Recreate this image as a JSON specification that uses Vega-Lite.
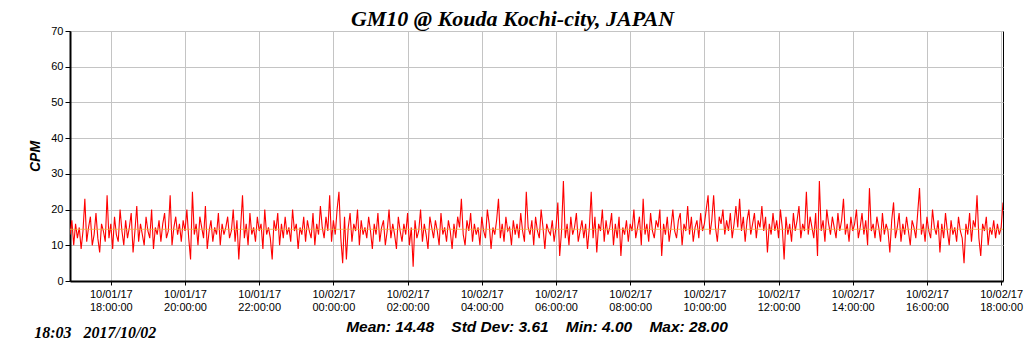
{
"$schema":"https://vega.github.io/schema/vega-lite/v6.json",
"width":933,"height":250,
"autosize":{"type":"none"},
"padding":{"left":70,"top":31,"right":21,"bottom":70},
"background":"white",
"title":{"text":"GM10 @ Kouda Kochi-city, JAPAN","font":"Liberation Serif","fontSize":22,"fontWeight":"bold","fontStyle":"italic","color":"black","anchor":"middle","offset":-6,"dx":-24},
"config":{"view":{"stroke":"black","strokeWidth":1}},
"layer":[
{"data":{"values":[
{"t":"2017-10-01T16:54","v":13},{"t":"2017-10-01T16:57","v":17},{"t":"2017-10-01T17:00","v":10},{"t":"2017-10-01T17:03","v":16},{"t":"2017-10-01T17:06","v":12},{"t":"2017-10-01T17:09","v":15},{"t":"2017-10-01T17:12","v":9},{"t":"2017-10-01T17:15","v":14},{"t":"2017-10-01T17:18","v":23},{"t":"2017-10-01T17:21","v":11},{"t":"2017-10-01T17:24","v":15},{"t":"2017-10-01T17:27","v":18},{"t":"2017-10-01T17:30","v":10},{"t":"2017-10-01T17:33","v":13},{"t":"2017-10-01T17:36","v":19},{"t":"2017-10-01T17:39","v":12},{"t":"2017-10-01T17:42","v":8},{"t":"2017-10-01T17:45","v":16},{"t":"2017-10-01T17:48","v":14},{"t":"2017-10-01T17:51","v":11},
{"t":"2017-10-01T17:54","v":24},{"t":"2017-10-01T17:57","v":12},{"t":"2017-10-01T18:00","v":16},{"t":"2017-10-01T18:03","v":9},{"t":"2017-10-01T18:06","v":18},{"t":"2017-10-01T18:09","v":13},{"t":"2017-10-01T18:12","v":11},{"t":"2017-10-01T18:15","v":20},{"t":"2017-10-01T18:18","v":14},{"t":"2017-10-01T18:21","v":10},{"t":"2017-10-01T18:24","v":17},{"t":"2017-10-01T18:27","v":12},{"t":"2017-10-01T18:30","v":15},{"t":"2017-10-01T18:33","v":19},{"t":"2017-10-01T18:36","v":8},{"t":"2017-10-01T18:39","v":14},{"t":"2017-10-01T18:42","v":21},{"t":"2017-10-01T18:45","v":11},{"t":"2017-10-01T18:48","v":16},{"t":"2017-10-01T18:51","v":13},
{"t":"2017-10-01T18:54","v":10},{"t":"2017-10-01T18:57","v":18},{"t":"2017-10-01T19:00","v":14},{"t":"2017-10-01T19:03","v":12},{"t":"2017-10-01T19:06","v":20},{"t":"2017-10-01T19:09","v":9},{"t":"2017-10-01T19:12","v":15},{"t":"2017-10-01T19:15","v":13},{"t":"2017-10-01T19:18","v":17},{"t":"2017-10-01T19:21","v":11},{"t":"2017-10-01T19:24","v":16},{"t":"2017-10-01T19:27","v":19},{"t":"2017-10-01T19:30","v":12},{"t":"2017-10-01T19:33","v":14},{"t":"2017-10-01T19:36","v":24},{"t":"2017-10-01T19:39","v":10},{"t":"2017-10-01T19:42","v":15},{"t":"2017-10-01T19:45","v":18},{"t":"2017-10-01T19:48","v":13},{"t":"2017-10-01T19:51","v":16},
{"t":"2017-10-01T19:54","v":11},{"t":"2017-10-01T19:57","v":17},{"t":"2017-10-01T20:00","v":14},{"t":"2017-10-01T20:03","v":20},{"t":"2017-10-01T20:06","v":12},{"t":"2017-10-01T20:09","v":6},{"t":"2017-10-01T20:12","v":25},{"t":"2017-10-01T20:15","v":13},{"t":"2017-10-01T20:18","v":16},{"t":"2017-10-01T20:21","v":10},{"t":"2017-10-01T20:24","v":18},{"t":"2017-10-01T20:27","v":15},{"t":"2017-10-01T20:30","v":12},{"t":"2017-10-01T20:33","v":21},{"t":"2017-10-01T20:36","v":9},{"t":"2017-10-01T20:39","v":14},{"t":"2017-10-01T20:42","v":17},{"t":"2017-10-01T20:45","v":11},{"t":"2017-10-01T20:48","v":15},{"t":"2017-10-01T20:51","v":13},
{"t":"2017-10-01T20:54","v":19},{"t":"2017-10-01T20:57","v":10},{"t":"2017-10-01T21:00","v":16},{"t":"2017-10-01T21:03","v":13},{"t":"2017-10-01T21:06","v":15},{"t":"2017-10-01T21:09","v":18},{"t":"2017-10-01T21:12","v":12},{"t":"2017-10-01T21:15","v":14},{"t":"2017-10-01T21:18","v":20},{"t":"2017-10-01T21:21","v":11},{"t":"2017-10-01T21:24","v":17},{"t":"2017-10-01T21:27","v":6},{"t":"2017-10-01T21:30","v":15},{"t":"2017-10-01T21:33","v":24},{"t":"2017-10-01T21:36","v":12},{"t":"2017-10-01T21:39","v":16},{"t":"2017-10-01T21:42","v":10},{"t":"2017-10-01T21:45","v":19},{"t":"2017-10-01T21:48","v":13},{"t":"2017-10-01T21:51","v":15},
{"t":"2017-10-01T21:54","v":11},{"t":"2017-10-01T21:57","v":18},{"t":"2017-10-01T22:00","v":14},{"t":"2017-10-01T22:03","v":16},{"t":"2017-10-01T22:06","v":9},{"t":"2017-10-01T22:09","v":20},{"t":"2017-10-01T22:12","v":13},{"t":"2017-10-01T22:15","v":15},{"t":"2017-10-01T22:18","v":12},{"t":"2017-10-01T22:21","v":6},{"t":"2017-10-01T22:24","v":17},{"t":"2017-10-01T22:27","v":14},{"t":"2017-10-01T22:30","v":19},{"t":"2017-10-01T22:33","v":10},{"t":"2017-10-01T22:36","v":16},{"t":"2017-10-01T22:39","v":12},{"t":"2017-10-01T22:42","v":18},{"t":"2017-10-01T22:45","v":13},{"t":"2017-10-01T22:48","v":15},{"t":"2017-10-01T22:51","v":11},
{"t":"2017-10-01T22:54","v":20},{"t":"2017-10-01T22:57","v":14},{"t":"2017-10-01T23:00","v":16},{"t":"2017-10-01T23:03","v":9},{"t":"2017-10-01T23:06","v":15},{"t":"2017-10-01T23:09","v":13},{"t":"2017-10-01T23:12","v":18},{"t":"2017-10-01T23:15","v":11},{"t":"2017-10-01T23:18","v":17},{"t":"2017-10-01T23:21","v":14},{"t":"2017-10-01T23:24","v":12},{"t":"2017-10-01T23:27","v":19},{"t":"2017-10-01T23:30","v":10},{"t":"2017-10-01T23:33","v":16},{"t":"2017-10-01T23:36","v":13},{"t":"2017-10-01T23:39","v":21},{"t":"2017-10-01T23:42","v":15},{"t":"2017-10-01T23:45","v":12},{"t":"2017-10-01T23:48","v":18},{"t":"2017-10-01T23:51","v":14},
{"t":"2017-10-01T23:54","v":24},{"t":"2017-10-01T23:57","v":11},{"t":"2017-10-02T00:00","v":17},{"t":"2017-10-02T00:03","v":13},{"t":"2017-10-02T00:06","v":20},{"t":"2017-10-02T00:09","v":25},{"t":"2017-10-02T00:12","v":12},{"t":"2017-10-02T00:15","v":5},{"t":"2017-10-02T00:18","v":18},{"t":"2017-10-02T00:21","v":6},{"t":"2017-10-02T00:24","v":15},{"t":"2017-10-02T00:27","v":19},{"t":"2017-10-02T00:30","v":11},{"t":"2017-10-02T00:33","v":16},{"t":"2017-10-02T00:36","v":14},{"t":"2017-10-02T00:39","v":20},{"t":"2017-10-02T00:42","v":10},{"t":"2017-10-02T00:45","v":17},{"t":"2017-10-02T00:48","v":13},{"t":"2017-10-02T00:51","v":15},
{"t":"2017-10-02T00:54","v":12},{"t":"2017-10-02T00:57","v":18},{"t":"2017-10-02T01:00","v":14},{"t":"2017-10-02T01:03","v":9},{"t":"2017-10-02T01:06","v":16},{"t":"2017-10-02T01:09","v":13},{"t":"2017-10-02T01:12","v":19},{"t":"2017-10-02T01:15","v":11},{"t":"2017-10-02T01:18","v":15},{"t":"2017-10-02T01:21","v":17},{"t":"2017-10-02T01:24","v":10},{"t":"2017-10-02T01:27","v":14},{"t":"2017-10-02T01:30","v":20},{"t":"2017-10-02T01:33","v":12},{"t":"2017-10-02T01:36","v":16},{"t":"2017-10-02T01:39","v":13},{"t":"2017-10-02T01:42","v":9},{"t":"2017-10-02T01:45","v":18},{"t":"2017-10-02T01:48","v":14},{"t":"2017-10-02T01:51","v":11},
{"t":"2017-10-02T01:54","v":16},{"t":"2017-10-02T01:57","v":13},{"t":"2017-10-02T02:00","v":19},{"t":"2017-10-02T02:03","v":10},{"t":"2017-10-02T02:06","v":15},{"t":"2017-10-02T02:09","v":4},{"t":"2017-10-02T02:12","v":17},{"t":"2017-10-02T02:15","v":12},{"t":"2017-10-02T02:18","v":14},{"t":"2017-10-02T02:21","v":20},{"t":"2017-10-02T02:24","v":11},{"t":"2017-10-02T02:27","v":16},{"t":"2017-10-02T02:30","v":13},{"t":"2017-10-02T02:33","v":9},{"t":"2017-10-02T02:36","v":18},{"t":"2017-10-02T02:39","v":15},{"t":"2017-10-02T02:42","v":12},{"t":"2017-10-02T02:45","v":17},{"t":"2017-10-02T02:48","v":14},{"t":"2017-10-02T02:51","v":10},
{"t":"2017-10-02T02:54","v":19},{"t":"2017-10-02T02:57","v":13},{"t":"2017-10-02T03:00","v":15},{"t":"2017-10-02T03:03","v":11},{"t":"2017-10-02T03:06","v":17},{"t":"2017-10-02T03:09","v":14},{"t":"2017-10-02T03:12","v":9},{"t":"2017-10-02T03:15","v":16},{"t":"2017-10-02T03:18","v":12},{"t":"2017-10-02T03:21","v":18},{"t":"2017-10-02T03:24","v":15},{"t":"2017-10-02T03:27","v":23},{"t":"2017-10-02T03:30","v":13},{"t":"2017-10-02T03:33","v":10},{"t":"2017-10-02T03:36","v":17},{"t":"2017-10-02T03:39","v":14},{"t":"2017-10-02T03:42","v":19},{"t":"2017-10-02T03:45","v":11},{"t":"2017-10-02T03:48","v":16},{"t":"2017-10-02T03:51","v":13},
{"t":"2017-10-02T03:54","v":15},{"t":"2017-10-02T03:57","v":10},{"t":"2017-10-02T04:00","v":18},{"t":"2017-10-02T04:03","v":14},{"t":"2017-10-02T04:06","v":12},{"t":"2017-10-02T04:09","v":20},{"t":"2017-10-02T04:12","v":16},{"t":"2017-10-02T04:15","v":9},{"t":"2017-10-02T04:18","v":15},{"t":"2017-10-02T04:21","v":13},{"t":"2017-10-02T04:24","v":17},{"t":"2017-10-02T04:27","v":23},{"t":"2017-10-02T04:30","v":12},{"t":"2017-10-02T04:33","v":16},{"t":"2017-10-02T04:36","v":11},{"t":"2017-10-02T04:39","v":18},{"t":"2017-10-02T04:42","v":14},{"t":"2017-10-02T04:45","v":15},{"t":"2017-10-02T04:48","v":10},{"t":"2017-10-02T04:51","v":17},
{"t":"2017-10-02T04:54","v":13},{"t":"2017-10-02T04:57","v":16},{"t":"2017-10-02T05:00","v":12},{"t":"2017-10-02T05:03","v":19},{"t":"2017-10-02T05:06","v":14},{"t":"2017-10-02T05:09","v":11},{"t":"2017-10-02T05:12","v":25},{"t":"2017-10-02T05:15","v":15},{"t":"2017-10-02T05:18","v":13},{"t":"2017-10-02T05:21","v":17},{"t":"2017-10-02T05:24","v":10},{"t":"2017-10-02T05:27","v":18},{"t":"2017-10-02T05:30","v":14},{"t":"2017-10-02T05:33","v":12},{"t":"2017-10-02T05:36","v":20},{"t":"2017-10-02T05:39","v":15},{"t":"2017-10-02T05:42","v":9},{"t":"2017-10-02T05:45","v":16},{"t":"2017-10-02T05:48","v":14},{"t":"2017-10-02T05:51","v":13},
{"t":"2017-10-02T05:54","v":17},{"t":"2017-10-02T05:57","v":11},{"t":"2017-10-02T06:00","v":15},{"t":"2017-10-02T06:03","v":22},{"t":"2017-10-02T06:06","v":7},{"t":"2017-10-02T06:09","v":14},{"t":"2017-10-02T06:12","v":28},{"t":"2017-10-02T06:15","v":12},{"t":"2017-10-02T06:18","v":16},{"t":"2017-10-02T06:21","v":10},{"t":"2017-10-02T06:24","v":18},{"t":"2017-10-02T06:27","v":13},{"t":"2017-10-02T06:30","v":15},{"t":"2017-10-02T06:33","v":19},{"t":"2017-10-02T06:36","v":11},{"t":"2017-10-02T06:39","v":14},{"t":"2017-10-02T06:42","v":17},{"t":"2017-10-02T06:45","v":12},{"t":"2017-10-02T06:48","v":16},{"t":"2017-10-02T06:51","v":9},
{"t":"2017-10-02T06:54","v":15},{"t":"2017-10-02T06:57","v":25},{"t":"2017-10-02T07:00","v":12},{"t":"2017-10-02T07:03","v":18},{"t":"2017-10-02T07:06","v":8},{"t":"2017-10-02T07:09","v":16},{"t":"2017-10-02T07:12","v":14},{"t":"2017-10-02T07:15","v":20},{"t":"2017-10-02T07:18","v":11},{"t":"2017-10-02T07:21","v":17},{"t":"2017-10-02T07:24","v":13},{"t":"2017-10-02T07:27","v":15},{"t":"2017-10-02T07:30","v":19},{"t":"2017-10-02T07:33","v":10},{"t":"2017-10-02T07:36","v":16},{"t":"2017-10-02T07:39","v":12},{"t":"2017-10-02T07:42","v":18},{"t":"2017-10-02T07:45","v":7},{"t":"2017-10-02T07:48","v":15},{"t":"2017-10-02T07:51","v":13},
{"t":"2017-10-02T07:54","v":17},{"t":"2017-10-02T07:57","v":11},{"t":"2017-10-02T08:00","v":16},{"t":"2017-10-02T08:03","v":14},{"t":"2017-10-02T08:06","v":20},{"t":"2017-10-02T08:09","v":12},{"t":"2017-10-02T08:12","v":15},{"t":"2017-10-02T08:15","v":18},{"t":"2017-10-02T08:18","v":10},{"t":"2017-10-02T08:21","v":23},{"t":"2017-10-02T08:24","v":13},{"t":"2017-10-02T08:27","v":16},{"t":"2017-10-02T08:30","v":11},{"t":"2017-10-02T08:33","v":19},{"t":"2017-10-02T08:36","v":14},{"t":"2017-10-02T08:39","v":12},{"t":"2017-10-02T08:42","v":17},{"t":"2017-10-02T08:45","v":15},{"t":"2017-10-02T08:48","v":20},{"t":"2017-10-02T08:51","v":7},
{"t":"2017-10-02T08:54","v":16},{"t":"2017-10-02T08:57","v":13},{"t":"2017-10-02T09:00","v":18},{"t":"2017-10-02T09:03","v":11},{"t":"2017-10-02T09:06","v":15},{"t":"2017-10-02T09:09","v":20},{"t":"2017-10-02T09:12","v":14},{"t":"2017-10-02T09:15","v":12},{"t":"2017-10-02T09:18","v":17},{"t":"2017-10-02T09:21","v":19},{"t":"2017-10-02T09:24","v":10},{"t":"2017-10-02T09:27","v":16},{"t":"2017-10-02T09:30","v":14},{"t":"2017-10-02T09:33","v":21},{"t":"2017-10-02T09:36","v":13},{"t":"2017-10-02T09:39","v":18},{"t":"2017-10-02T09:42","v":11},{"t":"2017-10-02T09:45","v":15},{"t":"2017-10-02T09:48","v":17},{"t":"2017-10-02T09:51","v":12},
{"t":"2017-10-02T09:54","v":19},{"t":"2017-10-02T09:57","v":14},{"t":"2017-10-02T10:00","v":16},{"t":"2017-10-02T10:03","v":20},{"t":"2017-10-02T10:06","v":24},{"t":"2017-10-02T10:09","v":13},{"t":"2017-10-02T10:12","v":17},{"t":"2017-10-02T10:15","v":24},{"t":"2017-10-02T10:18","v":15},{"t":"2017-10-02T10:21","v":11},{"t":"2017-10-02T10:24","v":18},{"t":"2017-10-02T10:27","v":16},{"t":"2017-10-02T10:30","v":20},{"t":"2017-10-02T10:33","v":13},{"t":"2017-10-02T10:36","v":17},{"t":"2017-10-02T10:39","v":14},{"t":"2017-10-02T10:42","v":19},{"t":"2017-10-02T10:45","v":12},{"t":"2017-10-02T10:48","v":16},{"t":"2017-10-02T10:51","v":21},
{"t":"2017-10-02T10:54","v":15},{"t":"2017-10-02T10:57","v":23},{"t":"2017-10-02T11:00","v":14},{"t":"2017-10-02T11:03","v":18},{"t":"2017-10-02T11:06","v":11},{"t":"2017-10-02T11:09","v":17},{"t":"2017-10-02T11:12","v":20},{"t":"2017-10-02T11:15","v":13},{"t":"2017-10-02T11:18","v":16},{"t":"2017-10-02T11:21","v":19},{"t":"2017-10-02T11:24","v":12},{"t":"2017-10-02T11:27","v":17},{"t":"2017-10-02T11:30","v":15},{"t":"2017-10-02T11:33","v":21},{"t":"2017-10-02T11:36","v":14},{"t":"2017-10-02T11:39","v":18},{"t":"2017-10-02T11:42","v":8},{"t":"2017-10-02T11:45","v":16},{"t":"2017-10-02T11:48","v":13},{"t":"2017-10-02T11:51","v":19},
{"t":"2017-10-02T11:54","v":14},{"t":"2017-10-02T11:57","v":17},{"t":"2017-10-02T12:00","v":12},{"t":"2017-10-02T12:03","v":20},{"t":"2017-10-02T12:06","v":15},{"t":"2017-10-02T12:09","v":6},{"t":"2017-10-02T12:12","v":18},{"t":"2017-10-02T12:15","v":13},{"t":"2017-10-02T12:18","v":16},{"t":"2017-10-02T12:21","v":11},{"t":"2017-10-02T12:24","v":19},{"t":"2017-10-02T12:27","v":14},{"t":"2017-10-02T12:30","v":17},{"t":"2017-10-02T12:33","v":21},{"t":"2017-10-02T12:36","v":12},{"t":"2017-10-02T12:39","v":16},{"t":"2017-10-02T12:42","v":14},{"t":"2017-10-02T12:45","v":25},{"t":"2017-10-02T12:48","v":13},{"t":"2017-10-02T12:51","v":18},
{"t":"2017-10-02T12:54","v":15},{"t":"2017-10-02T12:57","v":12},{"t":"2017-10-02T13:00","v":19},{"t":"2017-10-02T13:03","v":7},{"t":"2017-10-02T13:06","v":28},{"t":"2017-10-02T13:09","v":14},{"t":"2017-10-02T13:12","v":17},{"t":"2017-10-02T13:15","v":11},{"t":"2017-10-02T13:18","v":20},{"t":"2017-10-02T13:21","v":16},{"t":"2017-10-02T13:24","v":13},{"t":"2017-10-02T13:27","v":18},{"t":"2017-10-02T13:30","v":15},{"t":"2017-10-02T13:33","v":12},{"t":"2017-10-02T13:36","v":19},{"t":"2017-10-02T13:39","v":14},{"t":"2017-10-02T13:42","v":17},{"t":"2017-10-02T13:45","v":23},{"t":"2017-10-02T13:48","v":13},{"t":"2017-10-02T13:51","v":16},
{"t":"2017-10-02T13:54","v":11},{"t":"2017-10-02T13:57","v":18},{"t":"2017-10-02T14:00","v":14},{"t":"2017-10-02T14:03","v":16},{"t":"2017-10-02T14:06","v":20},{"t":"2017-10-02T14:09","v":12},{"t":"2017-10-02T14:12","v":15},{"t":"2017-10-02T14:15","v":19},{"t":"2017-10-02T14:18","v":13},{"t":"2017-10-02T14:21","v":17},{"t":"2017-10-02T14:24","v":10},{"t":"2017-10-02T14:27","v":26},{"t":"2017-10-02T14:30","v":14},{"t":"2017-10-02T14:33","v":16},{"t":"2017-10-02T14:36","v":12},{"t":"2017-10-02T14:39","v":18},{"t":"2017-10-02T14:42","v":15},{"t":"2017-10-02T14:45","v":11},{"t":"2017-10-02T14:48","v":19},{"t":"2017-10-02T14:51","v":13},
{"t":"2017-10-02T14:54","v":16},{"t":"2017-10-02T14:57","v":14},{"t":"2017-10-02T15:00","v":8},{"t":"2017-10-02T15:03","v":17},{"t":"2017-10-02T15:06","v":22},{"t":"2017-10-02T15:09","v":12},{"t":"2017-10-02T15:12","v":15},{"t":"2017-10-02T15:15","v":19},{"t":"2017-10-02T15:18","v":11},{"t":"2017-10-02T15:21","v":16},{"t":"2017-10-02T15:24","v":13},{"t":"2017-10-02T15:27","v":18},{"t":"2017-10-02T15:30","v":14},{"t":"2017-10-02T15:33","v":10},{"t":"2017-10-02T15:36","v":17},{"t":"2017-10-02T15:39","v":15},{"t":"2017-10-02T15:42","v":12},{"t":"2017-10-02T15:45","v":19},{"t":"2017-10-02T15:48","v":26},{"t":"2017-10-02T15:51","v":13},
{"t":"2017-10-02T15:54","v":16},{"t":"2017-10-02T15:57","v":11},{"t":"2017-10-02T16:00","v":18},{"t":"2017-10-02T16:03","v":14},{"t":"2017-10-02T16:06","v":12},{"t":"2017-10-02T16:09","v":20},{"t":"2017-10-02T16:12","v":15},{"t":"2017-10-02T16:15","v":13},{"t":"2017-10-02T16:18","v":17},{"t":"2017-10-02T16:21","v":8},{"t":"2017-10-02T16:24","v":16},{"t":"2017-10-02T16:27","v":12},{"t":"2017-10-02T16:30","v":19},{"t":"2017-10-02T16:33","v":14},{"t":"2017-10-02T16:36","v":10},{"t":"2017-10-02T16:39","v":17},{"t":"2017-10-02T16:42","v":13},{"t":"2017-10-02T16:45","v":15},{"t":"2017-10-02T16:48","v":11},{"t":"2017-10-02T16:51","v":18},
{"t":"2017-10-02T16:54","v":14},{"t":"2017-10-02T16:57","v":12},{"t":"2017-10-02T17:00","v":5},{"t":"2017-10-02T17:03","v":16},{"t":"2017-10-02T17:06","v":13},{"t":"2017-10-02T17:09","v":19},{"t":"2017-10-02T17:12","v":11},{"t":"2017-10-02T17:15","v":17},{"t":"2017-10-02T17:18","v":15},{"t":"2017-10-02T17:21","v":24},{"t":"2017-10-02T17:24","v":12},{"t":"2017-10-02T17:27","v":7},{"t":"2017-10-02T17:30","v":16},{"t":"2017-10-02T17:33","v":14},{"t":"2017-10-02T17:36","v":18},{"t":"2017-10-02T17:39","v":10},{"t":"2017-10-02T17:42","v":15},{"t":"2017-10-02T17:45","v":13},{"t":"2017-10-02T17:48","v":17},{"t":"2017-10-02T17:51","v":12},
{"t":"2017-10-02T17:54","v":16},{"t":"2017-10-02T17:57","v":13},{"t":"2017-10-02T18:00","v":15},{"t":"2017-10-02T18:03","v":22}
]},
"mark":{"type":"line","color":"#ff0000","strokeWidth":1.1,"clip":true},
"encoding":{
"x":{"field":"t","type":"temporal",
"scale":{"domain":[{"year":2017,"month":10,"date":1,"hours":16,"minutes":54},{"year":2017,"month":10,"date":2,"hours":18,"minutes":3}]},
"axis":{"values":[
{"year":2017,"month":10,"date":1,"hours":18},{"year":2017,"month":10,"date":1,"hours":20},{"year":2017,"month":10,"date":1,"hours":22},
{"year":2017,"month":10,"date":2,"hours":0},{"year":2017,"month":10,"date":2,"hours":2},{"year":2017,"month":10,"date":2,"hours":4},
{"year":2017,"month":10,"date":2,"hours":6},{"year":2017,"month":10,"date":2,"hours":8},{"year":2017,"month":10,"date":2,"hours":10},
{"year":2017,"month":10,"date":2,"hours":12},{"year":2017,"month":10,"date":2,"hours":14},{"year":2017,"month":10,"date":2,"hours":16},
{"year":2017,"month":10,"date":2,"hours":18}],
"labelExpr":"[timeFormat(datum.value,'%m/%d/%y'), timeFormat(datum.value,'%H:%M:%S')]",
"labelFont":"Liberation Sans","labelFontSize":11,"labelColor":"black","labelLineHeight":13,"labelPadding":3,
"domainColor":"black","domainWidth":2,"tickColor":"black","tickSize":4,"grid":true,"gridColor":"#c4c4c4","gridWidth":1,
"title":"Mean: 14.48\u00a0\u00a0\u00a0\u00a0Std Dev: 3.61\u00a0\u00a0\u00a0\u00a0Min: 4.00\u00a0\u00a0\u00a0\u00a0Max: 28.00",
"titleFont":"Liberation Sans","titleFontSize":15.5,"titleFontWeight":"bold","titleFontStyle":"italic","titleColor":"black","titlePadding":7}},
"y":{"field":"v","type":"quantitative","scale":{"domain":[0,70]},
"axis":{"values":[0,10,20,30,40,50,60,70],"labelFont":"Liberation Sans","labelFontSize":11,"labelColor":"black","labelPadding":2,
"domainColor":"black","domainWidth":2,"tickColor":"black","tickSize":5,"grid":true,"gridColor":"#c4c4c4","gridWidth":1,
"title":"CPM","titleFont":"Liberation Sans","titleFontSize":14,"titleFontWeight":"bold","titleFontStyle":"italic","titleColor":"black","titlePadding":8}}
}},
{"data":{"values":[{}]},"mark":{"type":"rule","color":"#f0b040","strokeWidth":1,"opacity":0.8},
"encoding":{"y":{"datum":14.48,"type":"quantitative",
"axis":{"values":[0,10,20,30,40,50,60,70],"labelFont":"Liberation Sans","labelFontSize":11,"labelColor":"black","labelPadding":2,
"domainColor":"black","domainWidth":2,"tickColor":"black","tickSize":5,"grid":true,"gridColor":"#c4c4c4","gridWidth":1,
"title":"CPM","titleFont":"Liberation Sans","titleFontSize":14,"titleFontWeight":"bold","titleFontStyle":"italic","titleColor":"black","titlePadding":8}}}},
{"data":{"values":[{"s":"18:03\u00a0\u00a0\u00a02017/10/02"}]},
"mark":{"type":"text","font":"Liberation Serif","fontSize":16,"fontWeight":"bold","fontStyle":"italic","align":"left","baseline":"alphabetic","color":"black","clip":false},
"encoding":{
"x":{"datum":{"year":2017,"month":10,"date":1,"hours":15,"minutes":56},"type":"temporal",
"axis":{"values":[
{"year":2017,"month":10,"date":1,"hours":18},{"year":2017,"month":10,"date":1,"hours":20},{"year":2017,"month":10,"date":1,"hours":22},
{"year":2017,"month":10,"date":2,"hours":0},{"year":2017,"month":10,"date":2,"hours":2},{"year":2017,"month":10,"date":2,"hours":4},
{"year":2017,"month":10,"date":2,"hours":6},{"year":2017,"month":10,"date":2,"hours":8},{"year":2017,"month":10,"date":2,"hours":10},
{"year":2017,"month":10,"date":2,"hours":12},{"year":2017,"month":10,"date":2,"hours":14},{"year":2017,"month":10,"date":2,"hours":16},
{"year":2017,"month":10,"date":2,"hours":18}],
"labelExpr":"[timeFormat(datum.value,'%m/%d/%y'), timeFormat(datum.value,'%H:%M:%S')]",
"labelFont":"Liberation Sans","labelFontSize":11,"labelColor":"black","labelLineHeight":13,"labelPadding":3,
"domainColor":"black","domainWidth":2,"tickColor":"black","tickSize":4,"grid":true,"gridColor":"#c4c4c4","gridWidth":1,
"title":"Mean: 14.48\u00a0\u00a0\u00a0\u00a0Std Dev: 3.61\u00a0\u00a0\u00a0\u00a0Min: 4.00\u00a0\u00a0\u00a0\u00a0Max: 28.00",
"titleFont":"Liberation Sans","titleFontSize":15.5,"titleFontWeight":"bold","titleFontStyle":"italic","titleColor":"black","titlePadding":7}},
"y":{"datum":-16,"type":"quantitative",
"axis":{"values":[0,10,20,30,40,50,60,70],"labelFont":"Liberation Sans","labelFontSize":11,"labelColor":"black","labelPadding":2,
"domainColor":"black","domainWidth":2,"tickColor":"black","tickSize":5,"grid":true,"gridColor":"#c4c4c4","gridWidth":1,
"title":"CPM","titleFont":"Liberation Sans","titleFontSize":14,"titleFontWeight":"bold","titleFontStyle":"italic","titleColor":"black","titlePadding":8}},
"text":{"field":"s"}}}
]
}
